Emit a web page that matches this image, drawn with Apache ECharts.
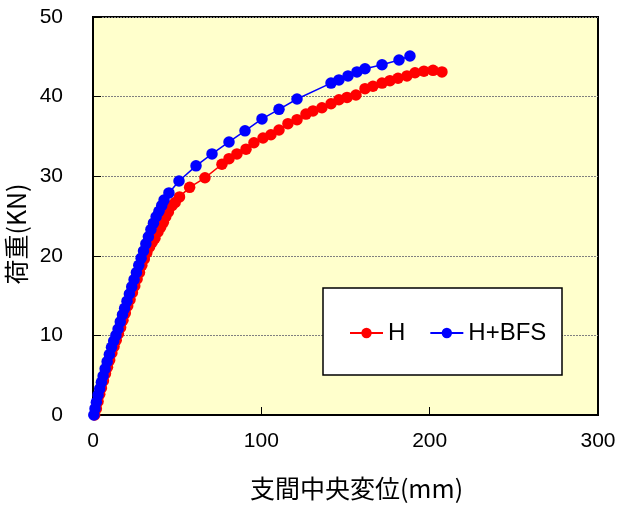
<!DOCTYPE html>
<html>
<head>
<meta charset="utf-8">
<script src="https://cdn.jsdelivr.net/npm/echarts@6/dist/echarts.min.js"></script>
<style>html,body{margin:0;padding:0;background:#fff;}#c{width:626px;height:514px;}</style>
</head>
<body>
<div id="c"></div>
<script>
// Series names
var seriesNames = ['H', 'H+BFS'];
// H (red) : displacement (mm) and load (kN)
var hX = [1,2,3,4,5,6.2,7.4,8.6,9.9,11.2,12.5,13.8,15.1,16.4,17.8,19.2,20.6,22,23.4,24.8,26.2,27.6,29,30.5,32,33.6,35.2,36.8,38.6,40.2,41.8,43.2,44.8,46.9,48.8,51.4,57.4,66.5,76.6,80.8,85.5,90.9,95.6,101,105.7,110.5,115.8,121.2,126.5,130.7,136,141.4,146.1,150.9,156.2,161.6,166.3,171.7,176.4,181.2,186.5,191.3,196.6,202,207.3];
var hY = [0,0.8,1.7,2.6,3.4,4.3,5.2,6.0,6.9,7.8,8.6,9.4,10.2,11.0,11.9,12.8,13.7,14.5,15.4,16.2,17.1,17.9,18.8,19.6,20.4,21.1,21.7,22.2,23.0,23.6,24.2,24.9,25.5,26.3,26.7,27.4,28.6,29.8,31.5,32.2,32.8,33.4,34.2,34.8,35.2,35.8,36.6,37.1,37.8,38.2,38.6,39.1,39.6,39.9,40.2,41.0,41.3,41.7,42.0,42.3,42.6,43.0,43.2,43.3,43.1];
// H+BFS (blue)
var bX = [0.5,1.2,2,3,4,5,6,7.2,8.4,9.7,11,12.3,13.6,14.9,16.2,17.5,18.8,20.2,21.6,23,24.4,25.8,27.2,28.6,30,31.4,32.9,34.4,35.9,37.5,39.2,40.8,42.2,45.1,51.1,61.2,70.7,80.8,90.3,100.4,110.5,121.2,141.4,146.1,151.5,156.8,161.6,171.7,181.8,188.3];
var bY = [0,0.8,1.6,2.5,3.3,4.1,4.9,5.8,6.7,7.6,8.5,9.3,10.0,10.8,11.7,12.6,13.4,14.3,15.2,16.1,17.0,17.9,18.8,19.7,20.6,21.5,22.4,23.3,24.1,24.9,25.6,26.3,27.0,27.9,29.4,31.3,32.8,34.3,35.7,37.2,38.4,39.7,41.7,42.1,42.6,43.1,43.5,44.0,44.6,45.1];
// Axis ticks
var xTicks = [0, 100, 200, 300];
var yTicks = [0, 10, 20, 30, 40, 50];

function zip(a, b) { return a.map(function (v, i) { return [v, b[i]]; }); }

var chart = echarts.init(document.getElementById('c'), null, {renderer: 'canvas'});
var labelFont = '"Liberation Sans", Arial, sans-serif';
var cjkFont = '"Noto Sans CJK JP", "Liberation Sans", sans-serif';
chart.setOption({
  backgroundColor: '#ffffff',
  animation: false,
  grid: {
    left: 93, top: 17, right: 28, bottom: 99,
    containLabel: false, outerBoundsMode: 'none',
    show: true, backgroundColor: '#FFFFCC', borderColor: '#000', borderWidth: 2
  },
  xAxis: {
    type: 'value', min: xTicks[0], max: xTicks[xTicks.length - 1], interval: 100,
    name: '支間中央変位(mm)', nameLocation: 'middle', nameGap: 61,
    nameTextStyle: {fontFamily: cjkFont, fontSize: 25, color: '#000', padding: [0, 0, 0, 22]},
    axisLine: {show: true, onZero: false, lineStyle: {color: '#000', width: 2}},
    axisTick: {show: true, inside: true, length: 8, lineStyle: {color: '#000', width: 1}},
    axisLabel: {margin: 16, fontFamily: labelFont, fontSize: 21, color: '#000'},
    splitLine: {show: false}
  },
  yAxis: {
    type: 'value', min: yTicks[0], max: yTicks[yTicks.length - 1], interval: 10,
    name: '荷重(KN)', nameLocation: 'middle', nameGap: 63, nameRotate: 90,
    nameTextStyle: {fontFamily: cjkFont, fontSize: 25, color: '#000', padding: [0, 36, 0, 0]},
    axisLine: {show: true, onZero: false, lineStyle: {color: '#000', width: 2}},
    axisTick: {show: true, inside: true, length: 8, lineStyle: {color: '#000', width: 1}},
    axisLabel: {margin: 30, fontFamily: labelFont, fontSize: 21, color: '#000'},
    splitLine: {show: true, lineStyle: {color: '#808080', width: 1, type: [2, 1]}}
  },
  legend: {
    left: 349, top: 321, orient: 'horizontal', padding: 0,
    itemWidth: 33, itemHeight: 13, itemGap: 24,
    textStyle: {fontFamily: labelFont, fontSize: 24, color: '#000'},
    data: seriesNames
  },
  graphic: [{
    type: 'rect', z: 3, silent: true,
    shape: {x: 323, y: 288, width: 239, height: 87},
    style: {fill: '#ffffff', stroke: '#000', lineWidth: 1.5}
  }],
  series: [
    {
      name: seriesNames[0], type: 'line', data: zip(hX, hY),
      symbol: 'circle', symbolSize: 11.5, showAllSymbol: true,
      lineStyle: {color: '#FF0000', width: 1.5},
      itemStyle: {color: '#FF0000', borderWidth: 0}
    },
    {
      name: seriesNames[1], type: 'line', data: zip(bX, bY),
      symbol: 'circle', symbolSize: 11.5, showAllSymbol: true,
      lineStyle: {color: '#0000FF', width: 1.5},
      itemStyle: {color: '#0000FF', borderWidth: 0}
    }
  ]
});
</script>
</body>
</html>
